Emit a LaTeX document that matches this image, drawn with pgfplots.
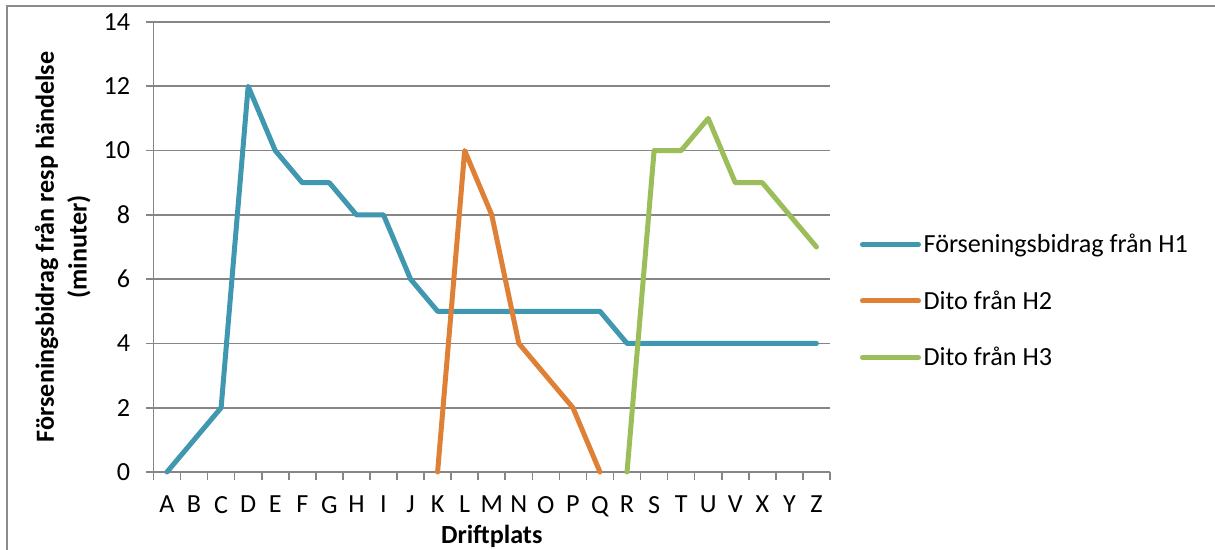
\documentclass[border=0pt]{standalone}
\usepackage{pgfplots}
\pgfplotsset{compat=1.18}
\usepackage{fontspec}
\setmainfont{Carlito}
\definecolor{cH1}{RGB}{64,151,176}
\definecolor{cH2}{RGB}{223,128,55}
\definecolor{cH3}{RGB}{155,190,90}
\definecolor{gridgray}{RGB}{134,134,134}
\definecolor{framegray}{RGB}{140,140,140}
\begin{document}
\begin{tikzpicture}
\useasboundingbox (0,0) rectangle (911.25pt,412.5pt);
\draw[framegray, line width=1.5pt] (5.25pt,0) -- (5.25pt,408pt) -- (911.25pt,408pt);
\begin{axis}[
  at={(115.1pt,58.5pt)}, anchor=south west,
  scale only axis, width=507.4pt, height=337.5pt,
  xmin=-0.5, xmax=24.5, ymin=0, ymax=14,
  axis x line*=bottom, axis y line*=left,
  axis line style={draw=gridgray, line width=1.2pt, -},
  ytick={0,2,...,14},
  ymajorgrids, grid style={gridgray, line width=1.2pt},
  xtick={0,...,24},
  xticklabels={A,B,C,D,E,F,G,H,I,J,K,L,M,N,O,P,Q,R,S,T,U,V,X,Y,Z},
  minor xtick={-0.5,0.5,...,24.5},
  major x tick style={draw=none},
  minor x tick style={gridgray, line width=1.2pt},
  major y tick style={gridgray, line width=1.2pt},
  tick align=outside,
  major tick length=5.5pt, minor tick length=6pt,
  tick label style={font=\fontsize{19.6}{23.5}\selectfont},
  /pgf/number format/assume math mode=true,
  xticklabel style={yshift=-9pt},
  yticklabel style={xshift=-8.5pt},
  xlabel={\bfseries Driftplats},
  ylabel={\bfseries Förseningsbidrag från resp händelse\\\bfseries (minuter)},
  xlabel style={font=\fontsize{19.6}{23.5}\selectfont, at={(axis description cs:0.5,-0.143)}, anchor=center},
  ylabel style={font=\fontsize{19.6}{24.5}\selectfont, align=center, at={(axis description cs:-0.134,0.5)}, anchor=center, rotate=0},
  legend style={at={(axis description cs:1.038,0.38)}, anchor=west, draw=none, fill=none,
    font=\fontsize{19.6}{23.5}\selectfont, row sep=23pt,
    legend cell align=left,
    nodes={inner xsep=2pt}},
  legend image code/.code={\draw[#1, line width=3.75pt, line cap=round] (0pt,0pt) -- (42pt,0pt);},
  every axis plot/.append style={line width=3.75pt, line join=round, line cap=round},
  clip=false,
]
\addplot[cH1, mark=none] coordinates {
(0,0) (1,1) (2,2) (3,12) (4,10) (5,9) (6,9) (7,8) (8,8) (9,6) (10,5) (11,5) (12,5)
(13,5) (14,5) (15,5) (16,5) (17,4) (18,4) (19,4) (20,4) (21,4) (22,4) (23,4) (24,4)};
\addlegendentry{Förseningsbidrag från H1}
\addplot[cH2, mark=none] coordinates {
(10,0) (11,10) (12,8) (13,4) (14,3) (15,2) (16,0)};
\addlegendentry{Dito från H2}
\addplot[cH3, mark=none] coordinates {
(17,0) (18,10) (19,10) (20,11) (21,9) (22,9) (23,8) (24,7)};
\addlegendentry{Dito från H3}
\end{axis}
\end{tikzpicture}
\end{document}
